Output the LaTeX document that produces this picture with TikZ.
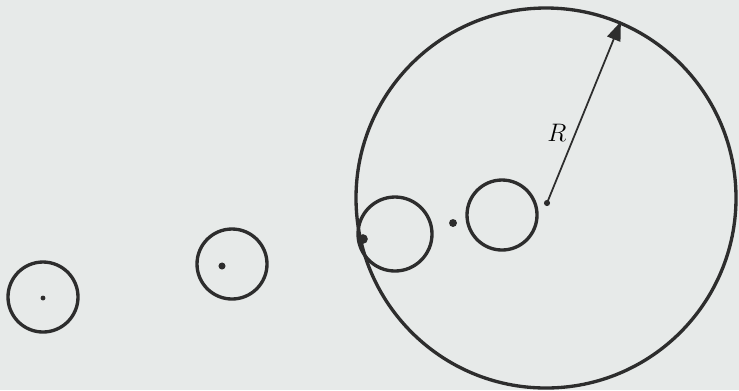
\documentclass[tikz,border=0pt]{standalone}
\usetikzlibrary{arrows.meta,positioning,calc}
\definecolor{paper}{RGB}{231,234,233}
\definecolor{ink}{RGB}{45,45,45}

\begin{document}
\begin{tikzpicture}[
  x=0.02cm,y=-0.02cm,
  ring/.style={draw=ink,circle,line width=1.9pt,inner sep=0pt,
    minimum size=70*0.02cm},
  dotmark/.style={fill=ink,circle,inner sep=0pt,minimum size=#1},
  dotmark/.default=4pt,
  radial/.style={-{Triangle[length=3.8mm,width=2.8mm]},line width=1pt,
    draw=ink}
]
\fill[paper] (0,0) rectangle (739,390);
\useasboundingbox (0,0) rectangle (739,390);

% free particles
\node[ring] (ringa) at (43,297) {};
\node[dotmark=2.8pt] (dota) at (43,298) {};
\node[ring] (ringb) at (232,264) {};
\node[dotmark=4pt] (dotb) at (222,266) {};

% capture sphere
\node[ring,minimum size=380*0.02cm] (outer) at (546,198) {};
\node[ring,minimum size=74*0.02cm] (ringc) at (395,234) {};
\node[dotmark=5.5pt] (dotc) at (363,239) {};
\node[dotmark=4.5pt] (dotd) at (453,223) {};
\node[ring] (ringd) at (502,215) {};
\node[dotmark=3.5pt] (centre) at (547,203) {};

\draw[radial] (centre.center) -- (outer.67);
\node[font=\Large] (rlabel) at (557,133) {$R$};
\end{tikzpicture}
\end{document}
